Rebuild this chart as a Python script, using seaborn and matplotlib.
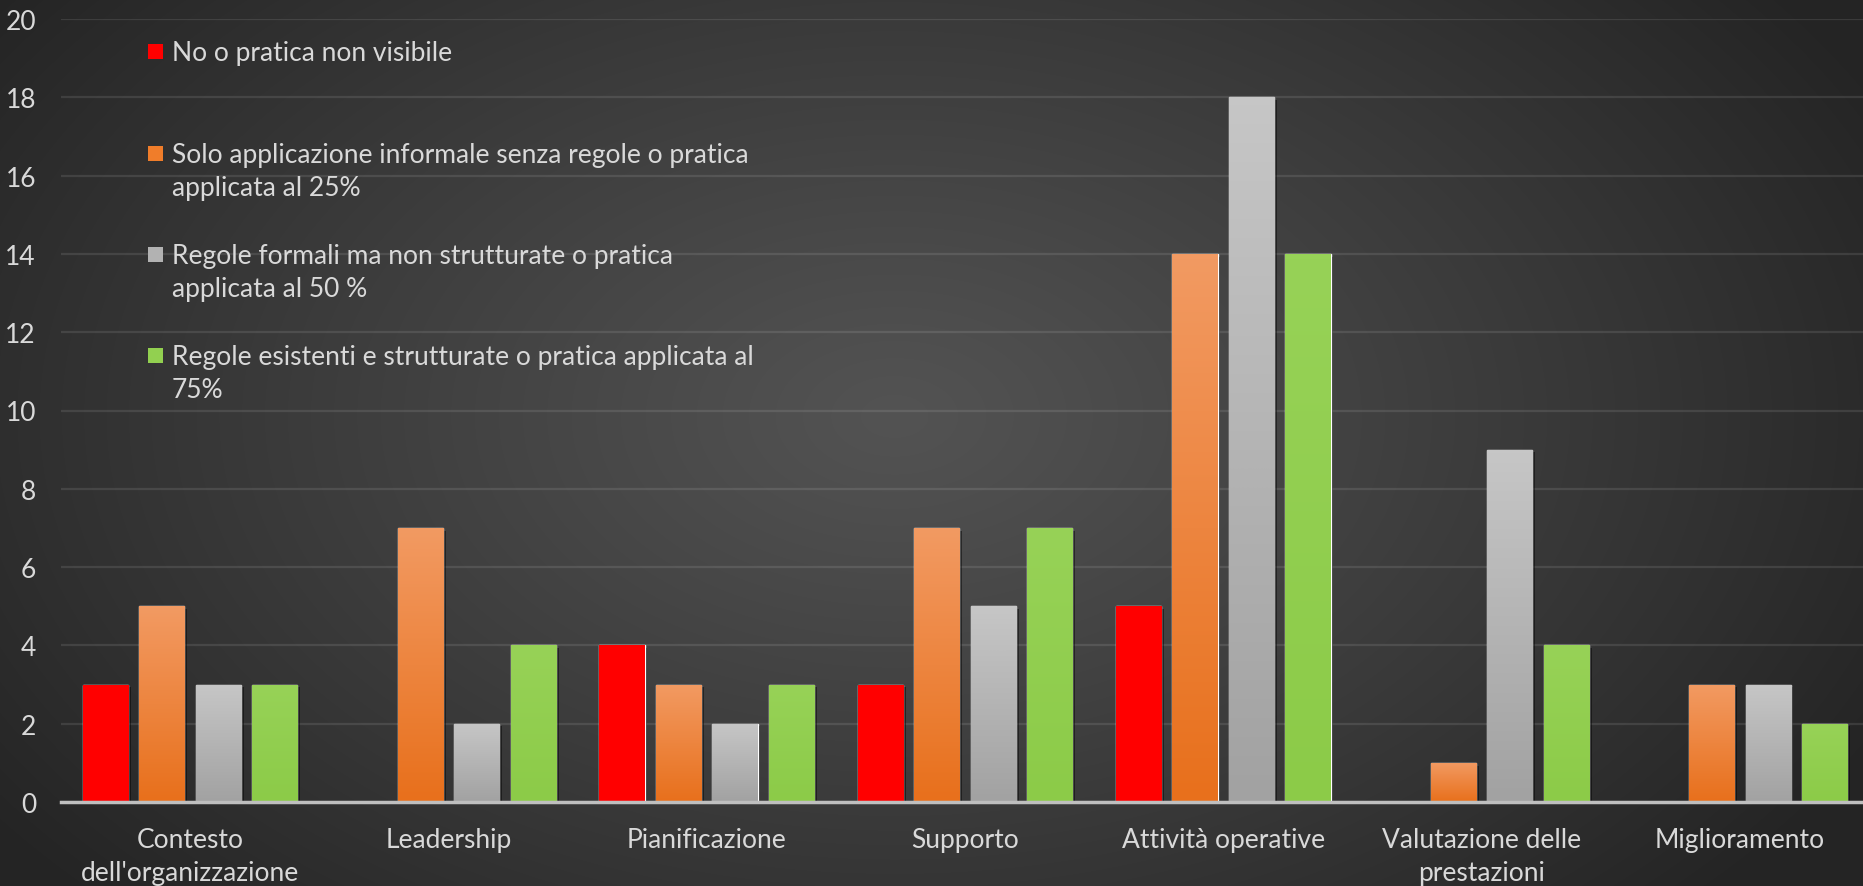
import numpy as np
import pandas as pd
import matplotlib
matplotlib.use("Agg")
import matplotlib.pyplot as plt
import matplotlib.patheffects as pe
from matplotlib.colors import LinearSegmentedColormap
from matplotlib.patches import Rectangle
import seaborn as sns

# ---- data -------------------------------------------------------------
categorie = ["Contesto\ndell'organizzazione", "Leadership", "Pianificazione",
             "Supporto", "Attività operative", "Valutazione delle\nprestazioni",
             "Miglioramento"]
serie = ["No o pratica non visibile",
         "Solo applicazione informale senza regole o pratica\napplicata al 25%",
         "Regole formali ma non strutturate o pratica\napplicata al 50 %",
         "Regole esistenti e strutturate o pratica applicata al\n75%"]
no_pratica = [3, 0, 4, 3, 5, 0, 0]
informale_25 = [5, 7, 3, 7, 14, 1, 3]
formali_50 = [3, 2, 2, 5, 18, 9, 3]
strutturate_75 = [3, 4, 3, 7, 14, 4, 2]
yticks = [0, 2, 4, 6, 8, 10, 12, 14, 16, 18, 20]

colori = ["#FF0000", "#F07D2A", "#B2B2B2", "#92D050"]
# (bottom, top) colours of the vertical gradient inside each bar
gradienti = [("#FF0000", "#FF0000"), ("#E8701C", "#F29A62"),
             ("#A2A2A2", "#C6C6C6"), ("#8CCB48", "#97D257")]

valori = [no_pratica, informale_25, formali_50, strutturate_75]
df = pd.DataFrame({
    "categoria": np.tile(categorie, len(serie)),
    "serie": np.repeat(serie, len(categorie)),
    "valore": np.concatenate(valori),
})

# ---- figure -----------------------------------------------------------
sns.set_theme(style="dark")
FONT = ["Lato", "DejaVu Sans"]
plt.rcParams["font.family"] = FONT
TXT = "#D9D9D9"
FS = 19

W, H = 1863, 887
fig = plt.figure(figsize=(W / 100, H / 100), dpi=100)
fig.patch.set_facecolor("#2a2a2a")

# radial dark background
bg = fig.add_axes([0, 0, 1, 1], zorder=0)
yy, xx = np.mgrid[0:H, 0:W]
r = np.sqrt(((xx - 0.48 * W) / (0.60 * W)) ** 2 + ((yy - 0.47 * H) / (0.80 * H)) ** 2)
r = np.clip(r, 0, 1) ** 1.1
inner = np.array([0x53, 0x53, 0x53]) / 255
outer = np.array([0x24, 0x24, 0x24]) / 255
bg.imshow(inner + (outer - inner) * r[..., None], aspect="auto", extent=[0, 1, 0, 1])
bg.axis("off")

ax = fig.add_axes([61 / W, 84 / H, 1808 / W, 783 / H], zorder=1)
ax.patch.set_alpha(0)

sns.barplot(data=df, x="categoria", y="valore", hue="serie", hue_order=serie,
            order=categorie, palette=colori, width=0.875, gap=0.2,
            saturation=1, legend=False, ax=ax, zorder=3)

# gradient fill and soft shadow for every bar
for cont, (cb, ct) in zip(ax.containers, gradienti):
    cmap = LinearSegmentedColormap.from_list("g", [cb, ct])
    for bar in cont:
        h = bar.get_height()
        if h <= 0:
            bar.set_visible(False)
            continue
        bar.set_path_effects([pe.SimplePatchShadow(offset=(2, -2), alpha=0.45,
                                                   shadow_rgbFace="black"),
                              pe.Normal()])
        x0, w = bar.get_x(), bar.get_width()
        im = ax.imshow(np.linspace(0, 1, 64)[:, None], cmap=cmap, origin="lower",
                       extent=[x0, x0 + w, 0, h], aspect="auto",
                       interpolation="bilinear", zorder=3.5)
        im.set_clip_path(bar)

ax.set_xlim(-0.5, len(categorie) - 0.5)
ax.set_ylim(0, 20)
ax.set_yticks(yticks)
ax.set_xlabel("")
ax.set_ylabel("")
ax.yaxis.grid(True, color="white", alpha=0.10, lw=1.6)
ax.xaxis.grid(False)
ax.set_axisbelow(True)
for s in ["top", "right", "left"]:
    ax.spines[s].set_visible(False)
ax.spines["bottom"].set_color("#BFBFBF")
ax.spines["bottom"].set_linewidth(2.5)
ax.spines["bottom"].set_zorder(5)
ax.tick_params(axis="y", length=0, pad=18, labelsize=FS, labelcolor=TXT)
ax.tick_params(axis="x", length=0, pad=18, labelsize=FS, labelcolor=TXT)
for lab in ax.get_xticklabels():
    lab.set_linespacing(1.4)

# legend: square swatch + wrapped label, top-left of the plot
leg_y = [52, 154, 255, 356]
for c, lab, ly in zip(colori, serie, leg_y):
    fig.patches.append(Rectangle((148 / W, (H - ly - 7.5) / H), 15 / W, 15 / H,
                                 transform=fig.transFigure, facecolor=c,
                                 edgecolor="none", zorder=6))
    fig.text(172 / W, (H - ly + 11) / H, lab, color=TXT, fontsize=FS,
             va="top", ha="left", linespacing=1.4, zorder=6,
             family=FONT)

fig.savefig("out.png", dpi=100, facecolor=fig.get_facecolor())
